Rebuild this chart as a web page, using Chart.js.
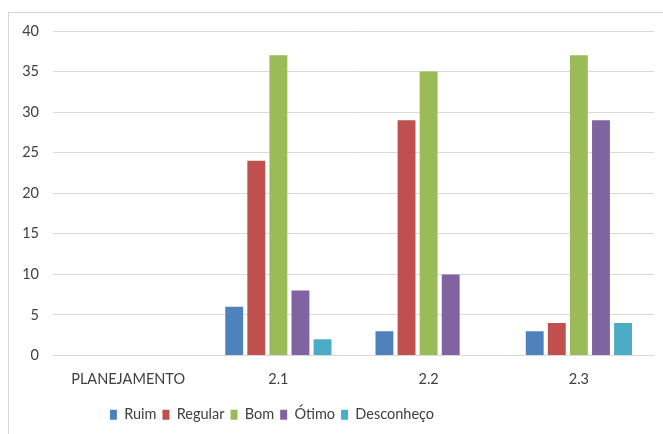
<!DOCTYPE html>
<html>
<head>
<meta charset="utf-8">
<script src="https://cdn.jsdelivr.net/npm/chart.js@4/dist/chart.umd.min.js"></script>
<style>
  html, body { margin: 0; padding: 0; background: #fff; overflow: hidden; }
  #wrap { position: relative; width: 663px; height: 434px; }
  #frame { position: absolute; left: 8px; top: 12px; width: 720px; height: 500px;
           border: 1px solid #d6d6d6; box-sizing: border-box; }
  #c { position: absolute; left: 0; top: 0; }
</style>
</head>
<body>
<div id="wrap">
  <div id="frame"></div>
  <canvas id="c" width="663" height="434"></canvas>
</div>
<script>
// Categories and survey counts per rating
const categories = ['PLANEJAMENTO', '2.1', '2.2', '2.3'];
const ruim       = [0, 6, 3, 3];
const regular    = [0, 24, 29, 4];
const bom        = [0, 37, 35, 37];
const otimo      = [0, 8, 10, 29];
const desconheco = [0, 2, 0, 4];
const yTicks     = [0, 5, 10, 15, 20, 25, 30, 35, 40];

const FONT = 'Lato, "Open Sans", "Liberation Sans", sans-serif';
const TEXT = '#404040';

function series(label, data, color) {
  return { label, data, backgroundColor: color, borderWidth: 0,
           categoryPercentage: 0.735, barPercentage: 0.81 };
}

// Keeps the legend centred under the left part of the frame
const legendShift = {
  id: 'legendShift',
  afterLayout(chart) {
    const lg = chart.legend;
    if (lg) { lg.left = 0; lg.right = 544; }
  }
};

new Chart(document.getElementById('c'), {
  type: 'bar',
  data: {
    labels: categories,
    datasets: [
      series('Ruim', ruim, '#4F81BD'),
      series('Regular', regular, '#C0504D'),
      series('Bom', bom, '#9BBB59'),
      series('Ótimo', otimo, '#8064A2'),
      series('Desconheço', desconheco, '#4BACC6')
    ]
  },
  options: {
    responsive: false,
    devicePixelRatio: 1,
    animation: false,
    layout: { padding: { left: 0, right: 9, top: 31, bottom: 2 } },
    plugins: {
      tooltip: { enabled: false },
      legend: {
        position: 'bottom',
        align: 'center',
        labels: {
          boxWidth: 7, boxHeight: 10, padding: 6,
          color: TEXT, font: { family: FONT, size: 14.5 }
        }
      }
    },
    scales: {
      x: {
        grid: { display: false, drawTicks: false },
        border: { display: false },
        ticks: { color: TEXT, padding: 15, font: { family: FONT, size: 14.5 }, maxRotation: 0 },
        afterFit(s) { s.height = 46; }
      },
      y: {
        min: 0, max: 40,
        afterBuildTicks(s) { s.ticks = yTicks.map(v => ({ value: v })); },
        grid: { color: '#d9d9d9', drawTicks: false, lineWidth: 1 },
        border: { display: false },
        ticks: { color: TEXT, padding: 14, font: { family: FONT, size: 14.5 } },
        afterFit(s) { s.width = 53; }
      }
    }
  },
  plugins: [legendShift]
});
</script>
</body>
</html>
